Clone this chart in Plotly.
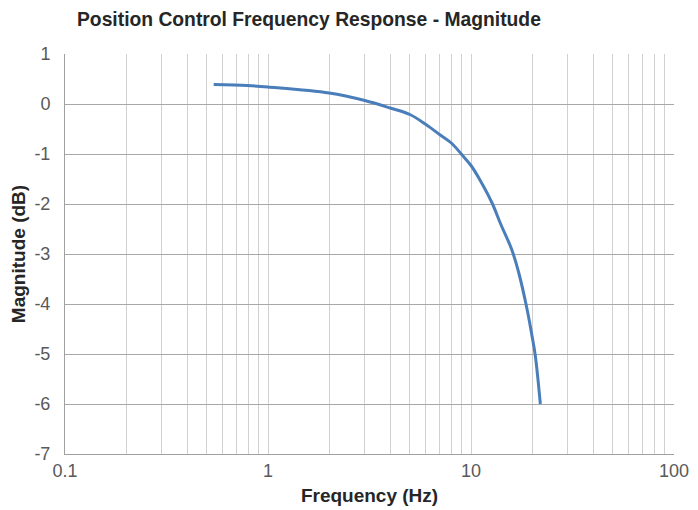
import plotly.graph_objects as go

freq_hz = [0.54, 0.79, 1.0, 2.0, 3.0, 4.0, 5.0, 6.0, 7.0, 8.0, 9.0, 10.0, 11.0,
           12.7, 14.0, 15.9, 17.2, 18.9, 20.0, 20.75, 21.96]
magnitude_db = [0.39, 0.37, 0.34, 0.22, 0.07, -0.08, -0.21, -0.41, -0.61, -0.78,
                -1.01, -1.23, -1.5, -1.98, -2.4, -2.92, -3.38, -4.11, -4.65, -5.04, -6.0]
x_tick_vals = [0.1, 1, 10, 100]
x_tick_text = ["0.1", "1", "10", "100"]
y_tick_vals = [1, 0, -1, -2, -3, -4, -5, -6, -7]
y_tick_text = ["1", "0", "-1", "-2", "-3", "-4", "-5", "-6", "-7"]

font_family = "Liberation Sans, Arial, sans-serif"

# page body has an 8px default margin, so the figure is sized/offset to compensate
W, H = 690, 502

fig = go.Figure()
fig.add_trace(go.Scatter(
    x=freq_hz, y=magnitude_db, mode="lines",
    line=dict(color="#4a7ebb", width=3, shape="spline", smoothing=1.0),
    showlegend=False, hoverinfo="skip",
))

fig.update_layout(
    width=W, height=H,
    margin=dict(l=57, r=24, t=46, b=56),
    paper_bgcolor="white", plot_bgcolor="white",
    font=dict(family=font_family, color="#595959", size=18),
    title=dict(
        text="<b>Position Control Frequency Response - Magnitude</b>",
        x=69 / W, xanchor="left", y=1 - 11 / H, yanchor="middle",
        font=dict(family=font_family, size=19.3, color="#262626"),
    ),
    xaxis=dict(
        type="log", range=[-1, 2], automargin=False,
        tickvals=x_tick_vals, ticktext=x_tick_text,
        showgrid=True, gridcolor="#d0d0d0", gridwidth=1,
        minor=dict(showgrid=True, gridcolor="#d0d0d0", gridwidth=1,
                   tickvals=[m * d for d in [0.1, 1, 10] for m in range(2, 10)]),
        showline=True, linecolor="#a0a0a0", linewidth=1,
        ticks="", zeroline=False, ticklabelstandoff=0,
        title=dict(text="<b>Frequency (Hz)</b>", standoff=9,
                   font=dict(size=19, color="#262626")),
    ),
    yaxis=dict(
        range=[-7, 1], automargin=False,
        tickvals=y_tick_vals, ticktext=y_tick_text,
        showgrid=True, gridcolor="#a8a8a8", gridwidth=1,
        showline=True, linecolor="#a0a0a0", linewidth=1,
        ticks="", zeroline=False, ticklabelstandoff=10,
        title=dict(text="<b>Magnitude (dB)</b>", standoff=3,
                   font=dict(size=19, color="#262626")),
    ),
)

fig.write_html("out.html")
